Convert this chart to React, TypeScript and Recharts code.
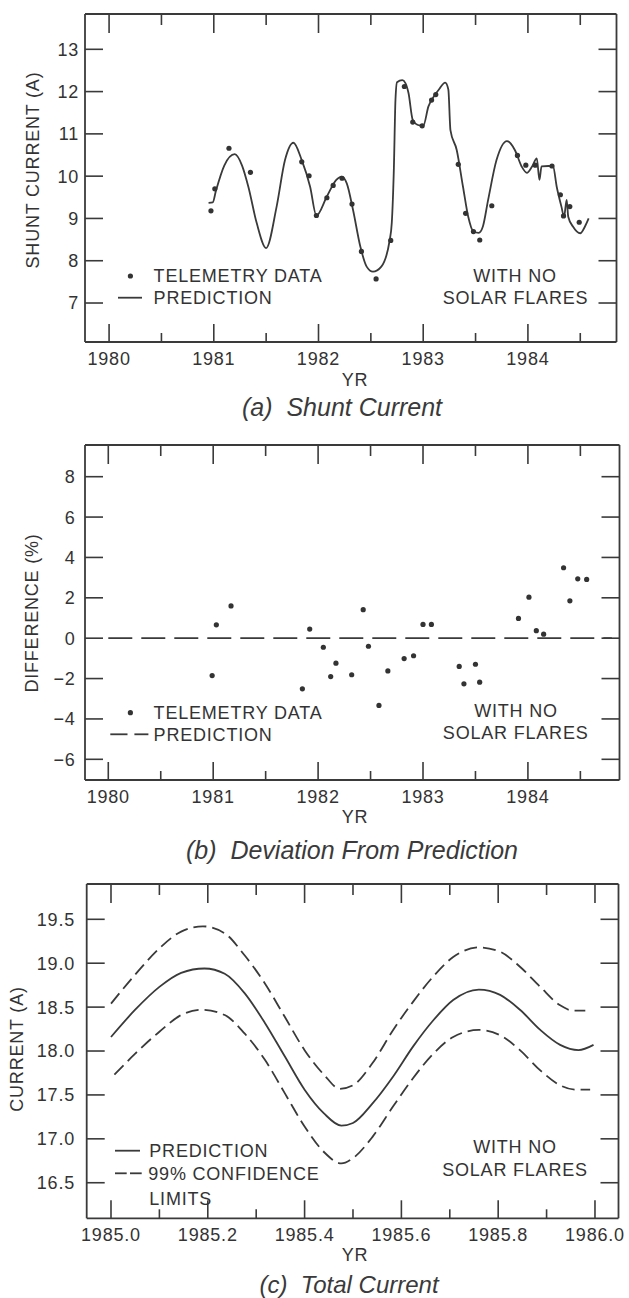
import React from 'react';
import { ComposedChart, Line, Scatter, XAxis, YAxis } from 'recharts';

const FONT = '"Liberation Sans", Arial, Helvetica, sans-serif';
const INK = '#333333';
const LINE = '#3a3a3a';

// ---------- Panel (a) Shunt Current ----------
const aPredYears = [1980.95, 1980.99, 1981.02, 1981.1, 1981.2, 1981.27, 1981.33, 1981.41, 1981.5, 1981.6, 1981.68, 1981.76, 1981.84, 1981.92, 1981.98, 1982.08, 1982.17, 1982.22, 1982.27, 1982.33, 1982.4, 1982.46, 1982.52, 1982.6, 1982.68, 1982.7, 1982.72, 1982.735, 1982.75, 1982.8, 1982.83, 1982.86, 1982.9, 1982.95, 1983.0, 1983.05, 1983.1, 1983.15, 1983.21, 1983.24, 1983.26, 1983.32, 1983.38, 1983.43, 1983.48, 1983.53, 1983.57, 1983.62, 1983.7, 1983.8, 1983.875, 1983.94, 1983.99, 1984.04, 1984.085, 1984.11, 1984.13, 1984.195, 1984.24, 1984.275, 1984.32, 1984.345, 1984.37, 1984.385, 1984.43, 1984.5, 1984.545, 1984.58];
const aPredValues = [9.37, 9.38, 9.65, 10.25, 10.52, 10.25, 9.75, 8.89, 8.3, 9.28, 10.38, 10.79, 10.38, 9.75, 9.07, 9.52, 9.91, 9.99, 9.83, 9.2, 8.33, 7.86, 7.74, 7.86, 8.49, 8.9, 10.2, 11.8, 12.22, 12.27, 12.2, 11.96, 11.33, 11.21, 11.19, 11.65, 11.88, 12.05, 12.21, 12.05, 11.09, 10.62, 9.75, 9.04, 8.69, 8.66, 8.81, 9.44, 10.38, 10.83, 10.62, 10.23, 10.08, 10.23, 10.42, 9.91, 10.23, 10.24, 10.23, 9.75, 9.28, 9.04, 9.44, 9.04, 8.81, 8.65, 8.81, 9.0];
const aTelYears = [1980.973, 1981.01, 1981.145, 1981.35, 1981.84, 1981.91, 1981.98, 1982.08, 1982.14, 1982.225, 1982.32, 1982.41, 1982.55, 1982.69, 1982.82, 1982.9, 1982.99, 1983.08, 1983.12, 1983.335, 1983.405, 1983.48, 1983.54, 1983.655, 1983.9, 1983.98, 1984.07, 1984.23, 1984.31, 1984.34, 1984.4, 1984.49];
const aTelValues = [9.18, 9.7, 10.66, 10.09, 10.34, 10.01, 9.07, 9.49, 9.78, 9.95, 9.34, 8.22, 7.57, 8.48, 12.12, 11.28, 11.19, 11.8, 11.93, 10.28, 9.12, 8.69, 8.49, 9.3, 10.49, 10.26, 10.26, 10.24, 9.56, 9.06, 9.28, 8.91];
const aXTicks = [1980, 1980.5, 1981, 1981.5, 1982, 1982.5, 1983, 1983.5, 1984, 1984.5];
const aYTicks = [7, 8, 9, 10, 11, 12, 13];

// ---------- Panel (b) Deviation ----------
const bTelYears = [1980.99, 1981.03, 1981.17, 1981.85, 1981.92, 1982.05, 1982.12, 1982.17, 1982.32, 1982.43, 1982.48, 1982.58, 1982.665, 1982.82, 1982.91, 1983.0, 1983.08, 1983.345, 1983.39, 1983.5, 1983.54, 1983.91, 1984.01, 1984.08, 1984.15, 1984.34, 1984.4, 1984.475, 1984.56];
const bTelValues = [-1.85, 0.66, 1.6, -2.51, 0.45, -0.45, -1.9, -1.24, -1.81, 1.41, -0.4, -3.33, -1.62, -1.01, -0.87, 0.68, 0.68, -1.4, -2.26, -1.29, -2.18, 0.98, 2.03, 0.37, 0.2, 3.49, 1.85, 2.94, 2.91];
const bPredYears = [1980.0, 1984.8];
const bPredValues = [0, 0];
const bXTicks = [1980, 1980.5, 1981, 1981.5, 1982, 1982.5, 1983, 1983.5, 1984, 1984.5];
const bYTicks = [-6, -4, -2, 0, 2, 4, 6, 8];

// ---------- Panel (c) Total Current ----------
const cPredYears = [1985.0, 1985.05, 1985.1, 1985.145, 1985.193, 1985.235, 1985.276, 1985.318, 1985.359, 1985.4, 1985.44, 1985.476, 1985.5, 1985.54, 1985.583, 1985.624, 1985.666, 1985.707, 1985.76, 1985.804, 1985.845, 1985.887, 1985.928, 1985.966, 1985.997];
const cPredValues = [18.16, 18.47, 18.73, 18.89, 18.94, 18.88, 18.66, 18.32, 17.94, 17.56, 17.29, 17.15, 17.18, 17.4, 17.71, 18.05, 18.35, 18.58, 18.7, 18.64, 18.47, 18.24, 18.07, 18.01, 18.07];
const cUpperYears = [1985.0, 1985.05, 1985.1, 1985.145, 1985.19, 1985.235, 1985.276, 1985.318, 1985.359, 1985.4, 1985.44, 1985.473, 1985.5, 1985.54, 1985.583, 1985.624, 1985.666, 1985.707, 1985.76, 1985.804, 1985.845, 1985.887, 1985.928, 1985.955, 1985.98];
const cUpperValues = [18.54, 18.87, 19.17, 19.36, 19.42, 19.34, 19.09, 18.77, 18.39, 18.01, 17.73, 17.57, 17.61, 17.86, 18.24, 18.56, 18.85, 19.07, 19.18, 19.13, 18.96, 18.73, 18.52, 18.46, 18.46];
const cLowerYears = [1985.007, 1985.05, 1985.1, 1985.145, 1985.187, 1985.235, 1985.276, 1985.318, 1985.359, 1985.4, 1985.44, 1985.476, 1985.5, 1985.54, 1985.583, 1985.624, 1985.666, 1985.707, 1985.76, 1985.804, 1985.845, 1985.887, 1985.928, 1985.96, 1985.99];
const cLowerValues = [17.73, 17.97, 18.22, 18.41, 18.47, 18.41, 18.2, 17.9, 17.52, 17.14, 16.85, 16.72, 16.78, 17.02, 17.37, 17.69, 17.97, 18.16, 18.24, 18.18, 18.01, 17.78, 17.61, 17.56, 17.56];
const cXTicks = [1985.0, 1985.1, 1985.2, 1985.3, 1985.4, 1985.5, 1985.6, 1985.7, 1985.8, 1985.9, 1986.0];
const cYTicks = [16.5, 17.0, 17.5, 18.0, 18.5, 19.0, 19.5];

const zip = (xs: number[], ys: number[]) => xs.map((t, i) => ({ t, v: ys[i] }));

const aPred = zip(aPredYears, aPredValues);
const aTel = zip(aTelYears, aTelValues);
const bPred = zip(bPredYears, bPredValues);
const bTel = zip(bTelYears, bTelValues);
const cPred = zip(cPredYears, cPredValues);
const cUpper = zip(cUpperYears, cUpperValues);
const cLower = zip(cLowerYears, cLowerValues);

type Side = 'bottom' | 'top' | 'left' | 'right';
interface TickCfg {
  side: Side;
  isMajor: (v: number) => boolean;
  major: number;
  minor: number;
  label?: (v: number) => string | null;
  gap?: number;
}

const textStyle = { fontFamily: FONT, fontSize: 18, letterSpacing: 0.8, fill: INK } as const;

function makeTick(cfg: TickCfg) {
  return (props: any) => {
    const { x, y, payload } = props;
    const v = payload.value as number;
    const len = cfg.isMajor(v) ? cfg.major : cfg.minor;
    let x2 = x;
    let y2 = y;
    if (cfg.side === 'bottom') y2 = y - len;
    if (cfg.side === 'top') y2 = y + len;
    if (cfg.side === 'left') x2 = x + len;
    if (cfg.side === 'right') x2 = x - len;
    const lbl = cfg.label ? cfg.label(v) : null;
    let txt: React.ReactNode = null;
    if (lbl !== null && lbl !== undefined) {
      if (cfg.side === 'bottom') {
        txt = (
          <text x={x} y={y + 16.5} dy="0.36em" textAnchor="middle" style={textStyle}>
            {lbl}
          </text>
        );
      } else if (cfg.side === 'left') {
        txt = (
          <text x={x - (cfg.gap || 6)} y={y} dy="0.36em" textAnchor="end" style={textStyle}>
            {lbl}
          </text>
        );
      }
    }
    return (
      <g>
        <line x1={x} y1={y} x2={x2} y2={y2} stroke={LINE} strokeWidth={1.6} />
        {txt}
      </g>
    );
  };
}

const isInt = (v: number) => Math.abs(v - Math.round(v)) < 1e-6;
const isEvenTenth = (v: number) => Math.round(v * 10) % 2 === 0;
const always = () => true;
const minusFmt = (v: number) => (v < 0 ? '\u2212' + String(-v) : String(v));

const dotShape = (p: any) => <circle cx={p.cx} cy={p.cy} r={2.6} fill={INK} />;

const axisLine = { stroke: LINE, strokeWidth: 1.8 };

interface FrameProps {
  xDomain: [number, number];
  yDomain: [number, number];
  xTicks: number[];
  yTicks: number[];
  xMajor: (v: number) => boolean;
  xLabel: (v: number) => string | null;
  yLabel: (v: number) => string;
  yGap: number;
}

// Axes are 1px thick (a 0px axis is not drawn); chart margins are reduced by 1 to compensate.
function frameAxes(f: FrameProps) {
  return [
    <XAxis
      key="xb"
      xAxisId="b"
      dataKey="t"
      type="number"
      orientation="bottom"
      domain={f.xDomain}
      allowDataOverflow
      ticks={f.xTicks}
      interval={0}
      height={1}
      tickSize={0}
      tickMargin={0}
      tickLine={false}
      axisLine={axisLine}
      tick={makeTick({ side: 'bottom', isMajor: f.xMajor, major: 18, minor: 9, label: f.xLabel })}
    />,
    <XAxis
      key="xt"
      xAxisId="t"
      dataKey="t"
      type="number"
      orientation="top"
      domain={f.xDomain}
      allowDataOverflow
      ticks={f.xTicks}
      interval={0}
      height={1}
      tickSize={0}
      tickMargin={0}
      tickLine={false}
      axisLine={axisLine}
      tick={makeTick({ side: 'top', isMajor: f.xMajor, major: 19, minor: 11 })}
    />,
    <YAxis
      key="yl"
      yAxisId="l"
      dataKey="v"
      type="number"
      orientation="left"
      domain={f.yDomain}
      allowDataOverflow
      ticks={f.yTicks}
      interval={0}
      width={1}
      tickSize={0}
      tickMargin={0}
      tickLine={false}
      axisLine={axisLine}
      tick={makeTick({ side: 'left', isMajor: always, major: 18, minor: 18, label: f.yLabel, gap: f.yGap })}
    />,
    <YAxis
      key="yr"
      yAxisId="r"
      dataKey="v"
      type="number"
      orientation="right"
      domain={f.yDomain}
      allowDataOverflow
      ticks={f.yTicks}
      interval={0}
      width={1}
      tickSize={0}
      tickMargin={0}
      tickLine={false}
      axisLine={axisLine}
      tick={makeTick({ side: 'right', isMajor: always, major: 18, minor: 18 })}
    />,
  ];
}

const T = (props: any) => (
  <text dy="0.36em" style={{ ...textStyle, ...(props.style || {}) }} {...props} />
);

function Overlay() {
  const cap = { fontFamily: FONT, fontSize: 25, fontStyle: 'italic', fill: '#3a3a3a', whiteSpace: 'pre' } as const;
  return (
    <svg width={629} height={1298} style={{ position: 'absolute', left: 0, top: 0, pointerEvents: 'none' }}>
      {/* Panel a */}
      <T x={0} y={0} transform="translate(33,170) rotate(-90)" textAnchor="middle">SHUNT CURRENT (A)</T>
      <T x={355} y={380} textAnchor="middle">YR</T>
      <text x={342} y={407} dy="0.36em" textAnchor="middle" style={cap}>{'(a)  Shunt Current'}</text>
      <circle cx={130.4} cy={276} r={2.6} fill={INK} />
      <T x={153.6} y={276}>TELEMETRY DATA</T>
      <line x1={118} y1={297.7} x2={142} y2={297.7} stroke={LINE} strokeWidth={1.8} />
      <T x={153.6} y={297.7}>PREDICTION</T>
      <T x={515} y={276} textAnchor="middle">WITH NO</T>
      <T x={515.5} y={298} textAnchor="middle">SOLAR FLARES</T>

      {/* Panel b */}
      <T x={0} y={0} transform="translate(32,613) rotate(-90)" textAnchor="middle">DIFFERENCE (%)</T>
      <T x={355} y={816.7} textAnchor="middle">YR</T>
      <text x={352} y={850} dy="0.36em" textAnchor="middle" style={cap}>{'(b)  Deviation From Prediction'}</text>
      <circle cx={130.4} cy={712.7} r={2.6} fill={INK} />
      <T x={153.6} y={712.7}>TELEMETRY DATA</T>
      <line x1={110.3} y1={734.3} x2={127.5} y2={734.3} stroke={LINE} strokeWidth={1.8} />
      <line x1={134.4} y1={734.3} x2={148.4} y2={734.3} stroke={LINE} strokeWidth={1.8} />
      <T x={153.6} y={734.3}>PREDICTION</T>
      <T x={516} y={711} textAnchor="middle">WITH NO</T>
      <T x={515.7} y={732.5} textAnchor="middle">SOLAR FLARES</T>

      {/* Panel c */}
      <T x={0} y={0} transform="translate(17,1049) rotate(-90)" textAnchor="middle">CURRENT (A)</T>
      <T x={355} y={1255} textAnchor="middle">YR</T>
      <text x={349} y={1284.5} dy="0.36em" textAnchor="middle" style={{ ...cap, fontSize: 24 }}>{'(c)  Total Current'}</text>
      <line x1={115} y1={1150.7} x2={140} y2={1150.7} stroke={LINE} strokeWidth={1.8} />
      <T x={149.3} y={1150.7}>PREDICTION</T>
      <line x1={115} y1={1173.3} x2={126.7} y2={1173.3} stroke={LINE} strokeWidth={1.8} />
      <line x1={130} y1={1173.3} x2={141.7} y2={1173.3} stroke={LINE} strokeWidth={1.8} />
      <T x={148.3} y={1173.3}>99% CONFIDENCE</T>
      <T x={149.3} y={1198.3}>LIMITS</T>
      <T x={515} y={1146.7} textAnchor="middle">WITH NO</T>
      <T x={515} y={1170} textAnchor="middle">SOLAR FLARES</T>
    </svg>
  );
}

export default function App() {
  return (
    <div style={{ position: 'absolute', left: 0, top: 0, width: 629, height: 1298, background: '#ffffff', overflow: 'hidden' }}>
      <div style={{ position: 'absolute', left: 0, top: 0 }}>
        <ComposedChart width={629} height={430} margin={{ top: 13, right: 11.5, bottom: 87, left: 84 }}>
          {frameAxes({
            xDomain: [1979.77, 1984.846],
            yDomain: [6.078, 13.835],
            xTicks: aXTicks,
            yTicks: aYTicks,
            xMajor: isInt,
            xLabel: (v) => (isInt(v) ? String(v) : null),
            yLabel: (v) => String(v),
            yGap: 6,
          })}
          <Line
            xAxisId="b"
            yAxisId="l"
            data={aPred}
            dataKey="v"
            type="monotone"
            stroke={LINE}
            strokeWidth={1.8}
            dot={false}
            isAnimationActive={false}
          />
          <Scatter xAxisId="b" yAxisId="l" data={aTel} dataKey="v" shape={dotShape} isAnimationActive={false} />
        </ComposedChart>
      </div>
      <div style={{ position: 'absolute', left: 0, top: 430 }}>
        <ComposedChart width={629} height={430} margin={{ top: 14, right: 8.5, bottom: 79, left: 84 }}>
          {frameAxes({
            xDomain: [1979.778, 1984.873],
            yDomain: [-7.025, 9.57],
            xTicks: bXTicks,
            yTicks: bYTicks,
            xMajor: isInt,
            xLabel: (v) => (isInt(v) ? String(v) : null),
            yLabel: minusFmt,
            yGap: 9.5,
          })}
          <Line
            xAxisId="b"
            yAxisId="l"
            data={bPred}
            dataKey="v"
            type="linear"
            stroke={LINE}
            strokeWidth={1.8}
            strokeDasharray="24 9"
            dot={false}
            isAnimationActive={false}
          />
          <Scatter xAxisId="b" yAxisId="l" data={bTel} dataKey="v" shape={dotShape} isAnimationActive={false} />
        </ComposedChart>
      </div>
      <div style={{ position: 'absolute', left: 0, top: 860 }}>
        <ComposedChart width={629} height={438} margin={{ top: 23, right: 9.5, bottom: 78.7, left: 85.7 }}>
          {frameAxes({
            xDomain: [1984.9498, 1986.0486],
            yDomain: [16.095, 19.902],
            xTicks: cXTicks,
            yTicks: cYTicks,
            xMajor: isEvenTenth,
            xLabel: (v) => (isEvenTenth(v) ? v.toFixed(1) : null),
            yLabel: (v) => v.toFixed(1),
            yGap: 11.7,
          })}
          <Line xAxisId="b" yAxisId="l" data={cUpper} dataKey="v" type="monotone" stroke={LINE} strokeWidth={1.8} strokeDasharray="13 6" dot={false} isAnimationActive={false} />
          <Line xAxisId="b" yAxisId="l" data={cPred} dataKey="v" type="monotone" stroke={LINE} strokeWidth={1.8} dot={false} isAnimationActive={false} />
          <Line xAxisId="b" yAxisId="l" data={cLower} dataKey="v" type="monotone" stroke={LINE} strokeWidth={1.8} strokeDasharray="13 6" dot={false} isAnimationActive={false} />
        </ComposedChart>
      </div>
      <Overlay />
    </div>
  );
}
